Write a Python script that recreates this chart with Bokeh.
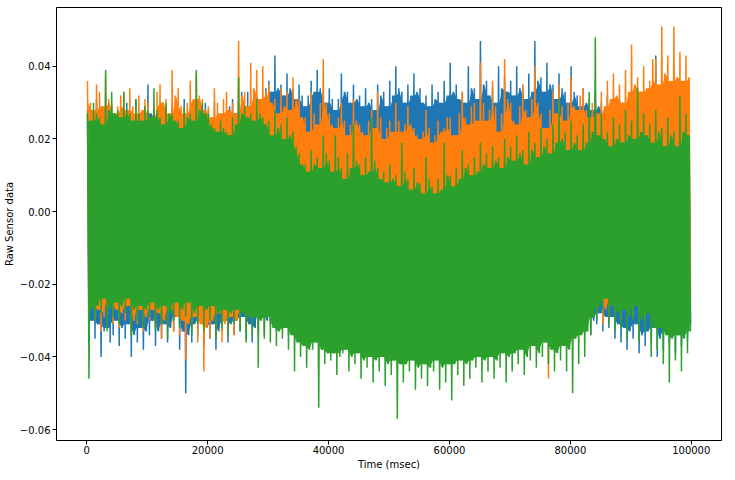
import numpy as np
from bokeh.plotting import figure
from bokeh.models import Range1d, FixedTicker, CustomJSTickFormatter
from bokeh.embed import file_html
from bokeh.resources import INLINE

# ---------------- data ----------------
# one high and one low reading per 500 msec window, values in units of 1e-3
WINDOW_START = list(range(0, 100000, 500))
UNIT = 1e-3

BLUE_HI = [28, 25, 26, 31, 27, 24, 25, 30, 29, 26, 27, 23, 24, 30, 28, 25, 31, 27, 26, 29,
           35, 27, 28, 25, 26, 30, 27, 24, 29, 26, 25, 28, 31, 27, 27, 24, 29, 26, 25, 30,
           28, 25, 30, 26, 27, 24, 26, 29, 31, 27, 30, 33, 29, 33, 29, 31, 32, 28, 30, 34,
           36, 33, 43, 34, 35, 32, 38, 34, 34, 31, 35, 32, 29, 32, 36, 33, 39, 34, 33, 30,
           34, 31, 28, 31, 38, 33, 33, 30, 35, 31, 32, 29, 34, 30, 31, 28, 35, 32, 33, 29,
           36, 32, 40, 34, 33, 30, 35, 32, 38, 33, 34, 30, 32, 29, 35, 31, 33, 30, 36, 32,
           41, 33, 35, 31, 33, 30, 40, 34, 34, 31, 47, 35, 36, 32, 34, 30, 40, 34, 37, 33,
           36, 32, 40, 34, 35, 31, 38, 33, 47, 36, 37, 33, 41, 35, 35, 31, 38, 34, 33, 30,
           40, 33, 32, 29, 34, 30, 31, 28, 33, 29, 30, 27, 32, 28, 29, 26, 31, 28, 30, 27,
           32, 28, 29, 26, 31, 27, 33, 29, 43, 31, 31, 28, 34, 30, 30, 27, 32, 28, 29, 27]
BLUE_LO = [-33, -30, -35, -31, -40, -33, -32, -36, -34, -30, -37, -32, -35, -31, -40, -34, -36, -32, -38, -33,
           -34, -30, -37, -33, -35, -31, -36, -32, -33, -29, -38, -33, -50, -34, -36, -31, -34, -30, -37, -32,
           -35, -31, -38, -33, -33, -30, -36, -31, -34, -30, -33, -29, -35, -31, -36, -32, -32, -28, -34, -30,
           -30, -27, -33, -29, -31, -27, -34, -30, -32, -28, -31, -27, -29, -26, -32, -28, -30, -27, -28, -25,
           -30, -27, -32, -28, -29, -26, -31, -27, -30, -26, -29, -26, -31, -27, -30, -26, -28, -25, -32, -28,
           -30, -26, -28, -25, -31, -27, -29, -26, -30, -27, -32, -28, -29, -26, -30, -27, -31, -27, -28, -25,
           -30, -27, -29, -26, -31, -27, -28, -25, -30, -27, -31, -27, -30, -26, -28, -25, -32, -28, -29, -26,
           -30, -27, -31, -27, -29, -26, -30, -27, -32, -28, -30, -26, -28, -25, -31, -27, -29, -26, -30, -27,
           -31, -27, -32, -28, -29, -26, -34, -30, -31, -28, -33, -29, -32, -29, -35, -31, -36, -32, -38, -33,
           -35, -31, -39, -34, -37, -33, -36, -32, -40, -35, -38, -33, -36, -32, -39, -34, -37, -33, -35, -31]

ORANGE_HI = [36, 30, 28, 35, 33, 29, 37, 31, 30, 27, 29, 32, 33, 28, 34, 29, 27, 32, 28, 31,
             30, 26, 29, 33, 35, 30, 31, 27, 39, 32, 34, 29, 27, 30, 36, 31, 38, 32, 31, 28,
             29, 26, 34, 30, 27, 31, 33, 28, 30, 27, 47, 32, 33, 29, 41, 34, 39, 31, 40, 33,
             35, 30, 31, 27, 34, 29, 33, 28, 37, 31, 31, 26, 26, 22, 33, 27, 24, 30, 42, 30,
             27, 24, 23, 26, 30, 25, 21, 24, 31, 25, 24, 22, 21, 25, 28, 23, 33, 26, 20, 23,
             25, 22, 30, 25, 22, 24, 29, 24, 23, 21, 20, 22, 28, 23, 19, 21, 25, 22, 23, 26,
             26, 21, 21, 27, 33, 26, 24, 29, 30, 25, 41, 30, 25, 28, 36, 29, 22, 27, 42, 31,
             30, 25, 24, 29, 35, 28, 26, 31, 40, 30, 27, 23, 23, 28, 33, 27, 35, 29, 25, 30,
             37, 29, 28, 32, 34, 28, 26, 30, 32, 27, 33, 29, 36, 31, 38, 32, 35, 30, 39, 33,
             46, 35, 37, 33, 40, 34, 36, 42, 42, 35, 51, 38, 43, 36, 51, 37, 44, 36, 43, 37]
ORANGE_LO = [-29, -26, -30, -27, -33, -29, -28, -25, -31, -27, -32, -28, -30, -26, -34, -30, -31, -27, -33, -29,
             -30, -27, -32, -28, -35, -30, -31, -27, -33, -29, -34, -30, -41, -31, -33, -29, -36, -31, -44, -32,
             -35, -30, -32, -28, -36, -31, -33, -29, -34, -30, -31, -27, -33, -29, -30, -26, -34, -30, -32, -28,
             -30, -26, -28, -25, -33, -28, -31, -27, -29, -25, -28, -24, -31, -27, -27, -24, -30, -26, -29, -25,
             -32, -27, -28, -24, -30, -26, -27, -24, -31, -27, -39, -28, -29, -25, -31, -27, -28, -24, -30, -26,
             -27, -24, -31, -27, -29, -25, -32, -27, -28, -24, -30, -26, -27, -23, -31, -27, -29, -25, -28, -24,
             -31, -27, -28, -24, -30, -26, -27, -23, -29, -25, -28, -24, -31, -27, -29, -25, -30, -26, -32, -28,
             -38, -29, -30, -26, -33, -28, -29, -25, -31, -27, -32, -28, -46, -30, -30, -26, -33, -28, -31, -27,
             -29, -25, -31, -27, -33, -28, -30, -26, -28, -24, -31, -27, -29, -25, -28, -24, -30, -26, -27, -23,
             -29, -25, -28, -24, -30, -26, -27, -23, -29, -25, -28, -24, -30, -26, -27, -23, -29, -25, -28, -24]

GREEN_HI = [27, 25, 30, 27, 26, 24, 39, 28, 33, 27, 28, 26, 33, 28, 27, 25, 31, 27, 25, 29,
            28, 26, 34, 28, 26, 24, 30, 27, 27, 25, 25, 23, 29, 26, 27, 25, 39, 28, 30, 27,
            27, 24, 23, 22, 25, 23, 22, 21, 26, 24, 37, 27, 29, 26, 27, 25, 31, 27, 26, 24,
            25, 21, 28, 23, 24, 20, 26, 21, 22, 18, 16, 13, 13, 11, 17, 13, 15, 12, 21, 16,
            14, 11, 21, 15, 12, 9, 16, 12, 24, 14, 13, 10, 15, 11, 26, 14, 12, 9, 11, 8,
            13, 9, 10, 7, 19, 11, 9, 6, 12, 8, 8, 5, 15, 9, 7, 5, 9, 6, 19, 10,
            10, 7, 12, 9, 17, 12, 13, 10, 15, 11, 19, 13, 16, 12, 18, 14, 15, 12, 20, 15,
            18, 14, 21, 16, 17, 13, 22, 17, 19, 15, 23, 18, 20, 16, 24, 19, 31, 20, 22, 17,
            25, 19, 21, 17, 24, 19, 33, 22, 48, 21, 27, 20, 22, 18, 26, 20, 24, 19, 28, 21,
            25, 20, 34, 22, 27, 21, 24, 19, 28, 22, 23, 18, 26, 21, 22, 18, 32, 22, 27, 21]
GREEN_LO = [-46, -27, -30, -26, -28, -24, -33, -27, -29, -25, -31, -26, -28, -24, -34, -27, -30, -26, -32, -27,
            -29, -25, -33, -27, -31, -26, -35, -28, -30, -25, -32, -27, -29, -25, -34, -28, -31, -26, -33, -27,
            -30, -26, -35, -28, -32, -27, -34, -28, -31, -27, -33, -28, -36, -29, -34, -29, -43, -30, -35, -29,
            -36, -32, -37, -33, -35, -32, -38, -34, -44, -36, -40, -37, -43, -38, -38, -36, -54, -38, -42, -39,
            -41, -39, -45, -40, -39, -38, -44, -40, -42, -39, -46, -41, -43, -40, -47, -41, -44, -40, -48, -42,
            -45, -41, -57, -42, -47, -42, -44, -41, -49, -43, -46, -42, -48, -43, -44, -41, -49, -43, -47, -42,
            -52, -42, -45, -41, -48, -42, -46, -41, -43, -40, -47, -41, -44, -40, -46, -41, -43, -39, -47, -40,
            -44, -39, -42, -38, -45, -40, -41, -37, -43, -39, -40, -36, -42, -38, -44, -39, -41, -37, -44, -38,
            -50, -35, -42, -34, -40, -33, -34, -29, -30, -26, -27, -24, -31, -26, -33, -28, -32, -27, -35, -29,
            -30, -26, -36, -30, -33, -28, -40, -32, -38, -32, -42, -34, -47, -35, -41, -34, -44, -35, -39, -33]

X_TICKS = [0, 20000, 40000, 60000, 80000, 100000]
Y_TICKS = [-0.06, -0.04, -0.02, 0.0, 0.02, 0.04]
X_LABEL = "Time (msec)"
Y_LABEL = "Raw Sensor data"

SERIES = [("#1f77b4", BLUE_HI, BLUE_LO),
          ("#ff7f0e", ORANGE_HI, ORANGE_LO),
          ("#2ca02c", GREEN_HI, GREEN_LO)]

# ---------------- figure ----------------
FONT = "DejaVu Sans"
p = figure(width=723, height=472, output_backend="svg", toolbar_location=None,
           x_range=Range1d(-5000, 105000), y_range=Range1d(-0.0630, 0.0562),
           min_border_left=51, min_border_right=2, min_border_top=7,
           min_border_bottom=30)
p.background_fill_color = "white"
p.border_fill_color = "white"
p.outline_line_color = "black"
p.outline_line_width = 1
p.grid.visible = False


def rolling(a, n, fn):
    ap = np.pad(a, n, mode="edge")
    stack = np.stack([ap[i:i + len(a)] for i in range(2 * n + 1)])
    return fn(stack, axis=0)


t = np.array(WINDOW_START, dtype=float)
for color, hi, lo in SERIES:
    h = np.array(hi, dtype=float) * UNIT
    l = np.array(lo, dtype=float) * UNIT
    top = rolling(h, 1, np.min)
    bot = rolling(l, 1, np.max)
    p.varea(x=t + 250, y1=bot, y2=top, fill_color=color, fill_alpha=1.0)
    xs = np.empty(2 * len(t))
    ys = np.empty(2 * len(t))
    xs[0::2] = t + 125
    xs[1::2] = t + 375
    ys[0::2] = h
    ys[1::2] = l
    p.line(xs, ys, line_color=color, line_width=1.5)

for ax in (p.xaxis[0], p.yaxis[0]):
    ax.axis_line_color = None
    ax.major_tick_in = 0
    ax.major_tick_out = 4
    ax.minor_tick_in = 0
    ax.minor_tick_out = 0
    ax.major_tick_line_color = "black"
    ax.major_label_text_font = FONT
    ax.major_label_text_font_size = "10px"
    ax.major_label_text_color = "black"
    ax.axis_label_text_font = FONT
    ax.axis_label_text_font_size = "10px"
    ax.axis_label_text_font_style = "normal"
    ax.axis_label_text_color = "black"

p.xaxis.ticker = FixedTicker(ticks=X_TICKS)
p.yaxis.ticker = FixedTicker(ticks=Y_TICKS)
p.xaxis.formatter = CustomJSTickFormatter(code="return tick.toFixed(0);")
p.yaxis.formatter = CustomJSTickFormatter(
    code="var v = Math.abs(tick) < 1e-9 ? 0 : tick; return v.toFixed(2).replace('-', '\u2212');")
p.xaxis.axis_label = X_LABEL
p.yaxis.axis_label = Y_LABEL
p.xaxis.major_label_standoff = 1
p.xaxis.axis_label_standoff = 2
p.yaxis.major_label_standoff = 2
p.yaxis.axis_label_standoff = 2

open("out.html", "w").write(file_html(p, INLINE))
